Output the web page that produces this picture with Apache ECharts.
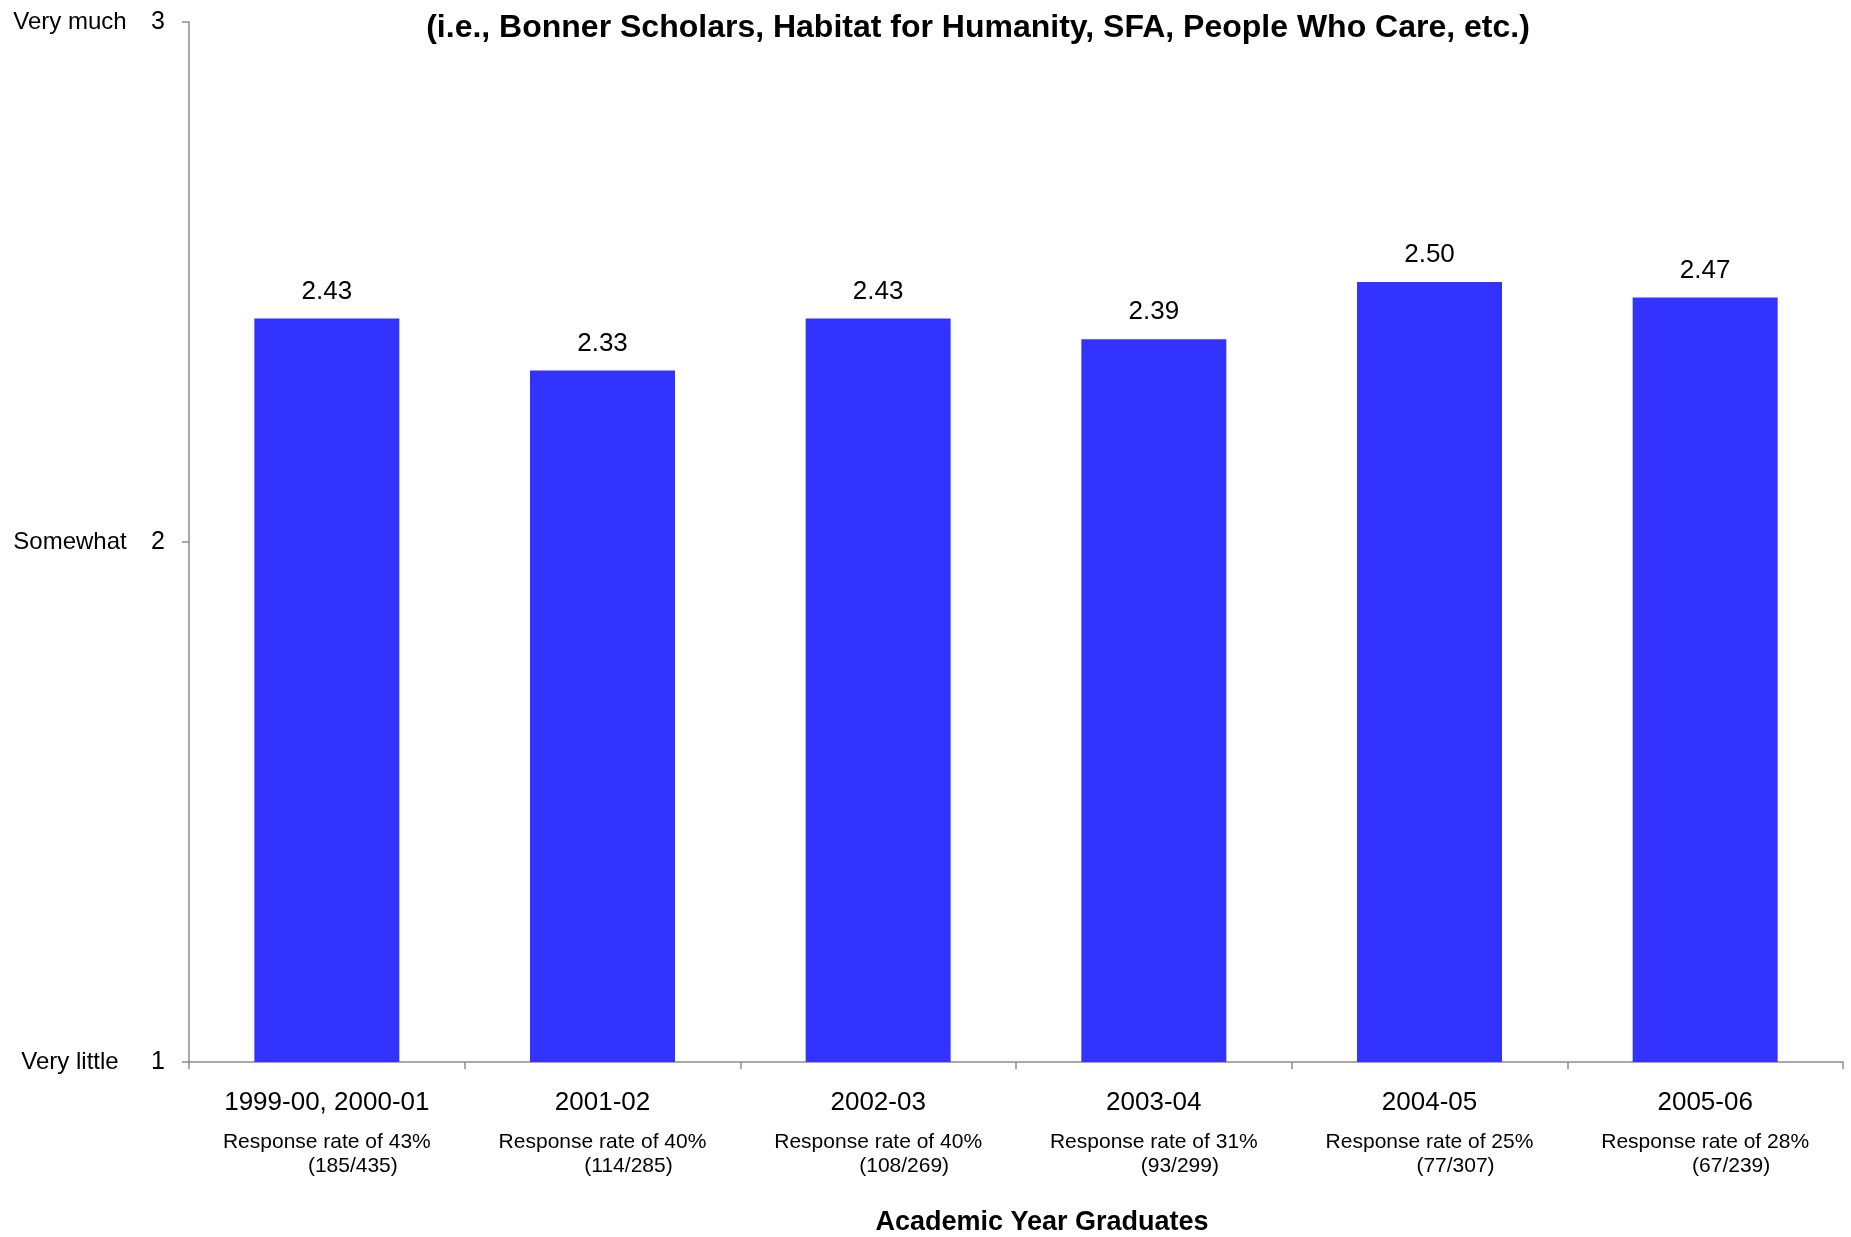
<!DOCTYPE html>
<html>
<head>
<meta charset="utf-8">
<title>Academic Year Graduates</title>
<script src="https://cdn.jsdelivr.net/npm/echarts@6/dist/echarts.min.js"></script>
<style>
  html, body { margin: 0; padding: 0; background: #fff; }
  #chartDiv { width: 1851px; height: 1237px; }
</style>
</head>
<body>
<div id="chartDiv"></div>
<script>
const categories = ["1999-00, 2000-01", "2001-02", "2002-03", "2003-04", "2004-05", "2005-06"];
const responseRates = ["43%", "40%", "40%", "31%", "25%", "28%"];
const responseCounts = ["(185/435)", "(114/285)", "(108/269)", "(93/299)", "(77/307)", "(67/239)"];
const meanScores = [2.43, 2.33, 2.43, 2.39, 2.50, 2.47];
const scaleNames = { 1: "Very little", 2: "Somewhat", 3: "Very much" };

const fontName = "'Liberation Sans', Arial, sans-serif";

let chart = echarts.init(document.getElementById("chartDiv"));

let options = {
    animation: false,
    backgroundColor: "#fff",
    textStyle: { fontFamily: fontName, color: "#000" },
    title: {
        text: "(i.e., Bonner Scholars, Habitat for Humanity, SFA, People Who Care, etc.)",
        left: 973,
        textAlign: "center",
        top: 7,
        textStyle: {
            fontFamily: fontName,
            fontSize: 32,
            fontWeight: "bold",
            color: "#000",
        },
    },
    grid: {
        left: 189,
        right: 8,
        top: 22,
        bottom: 175,
        outerBoundsMode: "none",
    },
    xAxis: {
        type: "category",
        data: categories,
        name: "Academic Year Graduates",
        nameLocation: "middle",
        nameGap: 147,
        nameTextStyle: {
            fontFamily: fontName,
            fontSize: 27,
            fontWeight: "bold",
            color: "#000",
            padding: [0, 0, 0, 52],
        },
        axisLine: { lineStyle: { color: "#8c8c8c", width: 1.5 } },
        axisTick: { show: true, length: 7, lineStyle: { color: "#8c8c8c", width: 1.5 } },
        axisLabel: {
            interval: 0,
            margin: 14,
            formatter: function (value, idx) {
                return "{y|" + value + "}\n{r|Response rate of " + responseRates[idx] + "}\n{f|" + responseCounts[idx] + "}";
            },
            rich: {
                y: { fontFamily: fontName, fontSize: 26, lineHeight: 54, color: "#000" },
                r: { fontFamily: fontName, fontSize: 21, lineHeight: 24, color: "#000" },
                f: { fontFamily: fontName, fontSize: 21, lineHeight: 24, color: "#000", padding: [0, 0, 0, 52] },
            },
        },
    },
    yAxis: {
        type: "value",
        min: 1,
        max: 3,
        interval: 1,
        splitLine: { show: false },
        axisLine: { show: true, lineStyle: { color: "#8c8c8c", width: 1.5 } },
        axisTick: { show: true, length: 7, lineStyle: { color: "#8c8c8c", width: 1.5 } },
        axisLabel: {
            margin: 24,
            formatter: function (value) {
                return "{n|" + scaleNames[value] + "}{v|" + value + "}";
            },
            rich: {
                n: { fontFamily: fontName, fontSize: 24, width: 130, align: "center", color: "#000" },
                v: { fontFamily: fontName, fontSize: 25, width: 30, align: "right", color: "#000" },
            },
        },
    },
    series: [
        {
            type: "bar",
            data: meanScores,
            barWidth: 145,
            itemStyle: { color: "#3333ff" },
            label: {
                show: true,
                position: "top",
                distance: 14,
                fontFamily: fontName,
                fontSize: 26,
                color: "#000",
                formatter: function (p) {
                    return p.value.toFixed(2);
                },
            },
        },
    ],
};
chart.setOption(options);
</script>
</body>
</html>
